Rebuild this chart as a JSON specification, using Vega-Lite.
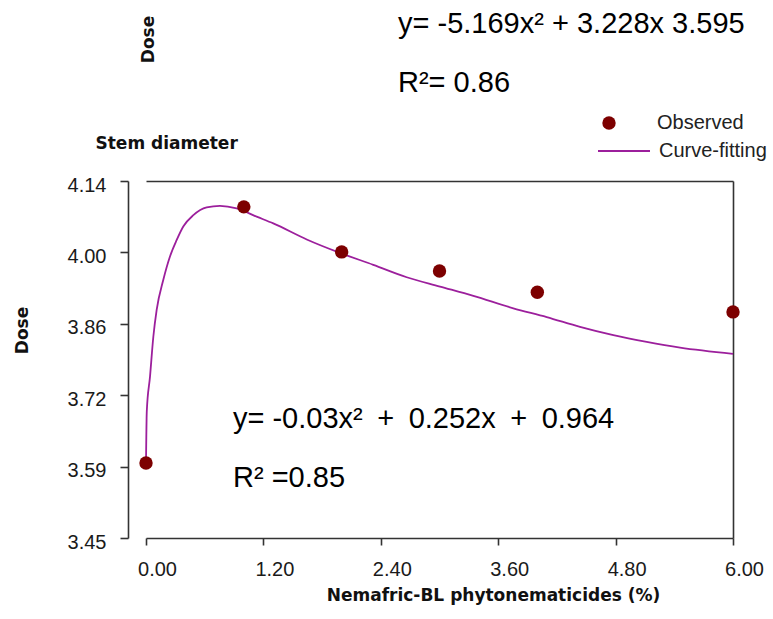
{
  "$schema": "https://vega.github.io/schema/vega-lite/v6.json",
  "width": 587,
  "height": 357,
  "autosize": {"type": "none"},
  "padding": {"left": 146, "top": 181, "right": 40, "bottom": 81},
  "background": "white",
  "config": {
    "view": {"stroke": null},
    "axis": {
      "grid": false,
      "domainColor": "#333",
      "domainWidth": 1.6,
      "tickColor": "#333",
      "tickWidth": 1.6,
      "labelFont": "Liberation Sans",
      "labelFontSize": 20,
      "labelColor": "#1a1a1a",
      "titleFont": "DejaVu Sans",
      "titleFontSize": 17,
      "titleFontWeight": "bold",
      "titleColor": "#111",
      "labelOverlap": false,
      "labelFlush": false
    }
  },
  "datasets": {
    "observed": [
      {"dose": 0, "stem": 3.595, "series": "Observed"},
      {"dose": 1, "stem": 4.09, "series": "Observed"},
      {"dose": 2, "stem": 4.003, "series": "Observed"},
      {"dose": 3, "stem": 3.966, "series": "Observed"},
      {"dose": 4, "stem": 3.925, "series": "Observed"},
      {"dose": 6, "stem": 3.887, "series": "Observed"}
    ],
    "fitted": [
      {"dose": 0, "stem": 3.595, "series": "Curve-fitting"},
      {"dose": 0.008, "stem": 3.695, "series": "Curve-fitting"},
      {"dose": 0.041, "stem": 3.762, "series": "Curve-fitting"},
      {"dose": 0.075, "stem": 3.839, "series": "Curve-fitting"},
      {"dose": 0.109, "stem": 3.891, "series": "Curve-fitting"},
      {"dose": 0.177, "stem": 3.949, "series": "Curve-fitting"},
      {"dose": 0.245, "stem": 3.994, "series": "Curve-fitting"},
      {"dose": 0.314, "stem": 4.026, "series": "Curve-fitting"},
      {"dose": 0.381, "stem": 4.052, "series": "Curve-fitting"},
      {"dose": 0.484, "stem": 4.074, "series": "Curve-fitting"},
      {"dose": 0.62, "stem": 4.089, "series": "Curve-fitting"},
      {"dose": 0.756, "stem": 4.092, "series": "Curve-fitting"},
      {"dose": 0.927, "stem": 4.087, "series": "Curve-fitting"},
      {"dose": 1.131, "stem": 4.071, "series": "Curve-fitting"},
      {"dose": 1.301, "stem": 4.058, "series": "Curve-fitting"},
      {"dose": 1.643, "stem": 4.027, "series": "Curve-fitting"},
      {"dose": 1.983, "stem": 4.001, "series": "Curve-fitting"},
      {"dose": 2.323, "stem": 3.978, "series": "Curve-fitting"},
      {"dose": 2.665, "stem": 3.954, "series": "Curve-fitting"},
      {"dose": 3.005, "stem": 3.936, "series": "Curve-fitting"},
      {"dose": 3.346, "stem": 3.918, "series": "Curve-fitting"},
      {"dose": 3.755, "stem": 3.894, "series": "Curve-fitting"},
      {"dose": 4.096, "stem": 3.877, "series": "Curve-fitting"},
      {"dose": 4.436, "stem": 3.858, "series": "Curve-fitting"},
      {"dose": 4.777, "stem": 3.842, "series": "Curve-fitting"},
      {"dose": 5.118, "stem": 3.829, "series": "Curve-fitting"},
      {"dose": 5.459, "stem": 3.818, "series": "Curve-fitting"},
      {"dose": 6.0, "stem": 3.806, "series": "Curve-fitting"}
    ],
    "equations": [
      {"dose": 2.576, "stem": 4.426, "label": "y= -5.169x² + 3.228x 3.595"},
      {"dose": 2.576, "stem": 4.312, "label": "R²= 0.86"},
      {"dose": 0.889, "stem": 3.6626, "label": "y= -0.03x²\u2002+\u20020.252x\u2002+\u20020.964"},
      {"dose": 0.889, "stem": 3.5486, "label": "R² =0.85"}
    ]
  },
  "resolve": {"axis": {"x": "independent", "y": "independent"}},
  "layer": [
    {
      "data": {"name": "fitted"},
      "mark": {"type": "line", "strokeWidth": 1.8, "interpolate": "monotone"},
      "encoding": {
        "x": {
          "field": "dose", "type": "quantitative",
          "scale": {"domain": [0, 6], "nice": false, "zero": false},
          "axis": {
            "orient": "bottom",
            "values": [0, 1.2, 2.4, 3.6, 4.8, 6],
            "format": ".2f",
            "tickSize": 7,
            "labelPadding": 14,
            "labelOffset": 11,
            "title": "Nemafric-BL phytonematicides (%)",
            "titleX": 347,
            "titleY": 62,
            "titleAlign": "center",
            "titleBaseline": "alphabetic"
          }
        },
        "y": {
          "field": "stem", "type": "quantitative",
          "scale": {"domain": [3.45, 4.14], "nice": false, "zero": false},
          "axis": {
            "orient": "left",
            "offset": 18,
            "values": [3.45, 3.588, 3.726, 3.864, 4.002, 4.14],
            "labelExpr": "abs(datum.value - 3.726) < 0.001 ? '3.72' : format(datum.value, '.2f')",
            "tickSize": 8,
            "labelPadding": 14,
            "labelOffset": 4,
            "title": "Dose",
            "titleX": -101,
            "titleY": 149,
            "titleAngle": 270,
            "titleAlign": "center",
            "titleBaseline": "alphabetic"
          }
        },
        "stroke": {
          "field": "series", "type": "nominal",
          "scale": {"domain": ["Curve-fitting"], "range": ["#9c1f9c"]},
          "legend": {
            "orient": "none",
            "legendX": 451,
            "legendY": -57,
            "title": null,
            "padding": 0,
            "symbolType": "stroke",
            "symbolSize": 2704,
            "symbolStrokeWidth": 1.8,
            "labelOffset": 8,
            "labelFont": "Liberation Sans",
            "labelFontSize": 20,
            "labelColor": "#222"
          }
        }
      }
    },
    {
      "data": {"name": "observed"},
      "mark": {"type": "circle", "size": 180, "opacity": 1},
      "encoding": {
        "x": {
          "field": "dose", "type": "quantitative",
          "scale": {"domain": [0, 6], "nice": false, "zero": false},
          "axis": {
            "orient": "top",
            "ticks": false,
            "labels": false,
            "title": "Stem diameter",
            "titleX": -51,
            "titleY": -33,
            "titleAngle": 0,
            "titleAlign": "left",
            "titleBaseline": "alphabetic"
          }
        },
        "y": {
          "field": "stem", "type": "quantitative",
          "scale": {"domain": [3.45, 4.14], "nice": false, "zero": false},
          "axis": {
            "orient": "right",
            "ticks": false,
            "labels": false,
            "title": "Dose",
            "titleX": -580,
            "titleY": -142,
            "titleAngle": 270,
            "titleAlign": "center",
            "titleBaseline": "alphabetic"
          }
        },
        "fill": {
          "field": "series", "type": "nominal",
          "scale": {"domain": ["Observed"], "range": ["#7d0000"]},
          "legend": {
            "orient": "none",
            "legendX": 453,
            "legendY": -68,
            "title": null,
            "padding": 0,
            "symbolType": "circle",
            "symbolSize": 180,
            "symbolStrokeWidth": 0,
            "symbolOpacity": 1,
            "labelOffset": 38,
            "labelFont": "Liberation Sans",
            "labelFontSize": 20,
            "labelColor": "#222"
          }
        }
      }
    },
    {
      "data": {"name": "equations"},
      "mark": {"type": "text", "align": "left", "baseline": "alphabetic", "font": "Liberation Sans", "fontSize": 29, "color": "#000"},
      "encoding": {
        "x": {"field": "dose", "type": "quantitative", "scale": {"domain": [0, 6], "nice": false, "zero": false}, "axis": null},
        "y": {"field": "stem", "type": "quantitative", "scale": {"domain": [3.45, 4.14], "nice": false, "zero": false}, "axis": null},
        "text": {"field": "label"}
      }
    }
  ]
}
